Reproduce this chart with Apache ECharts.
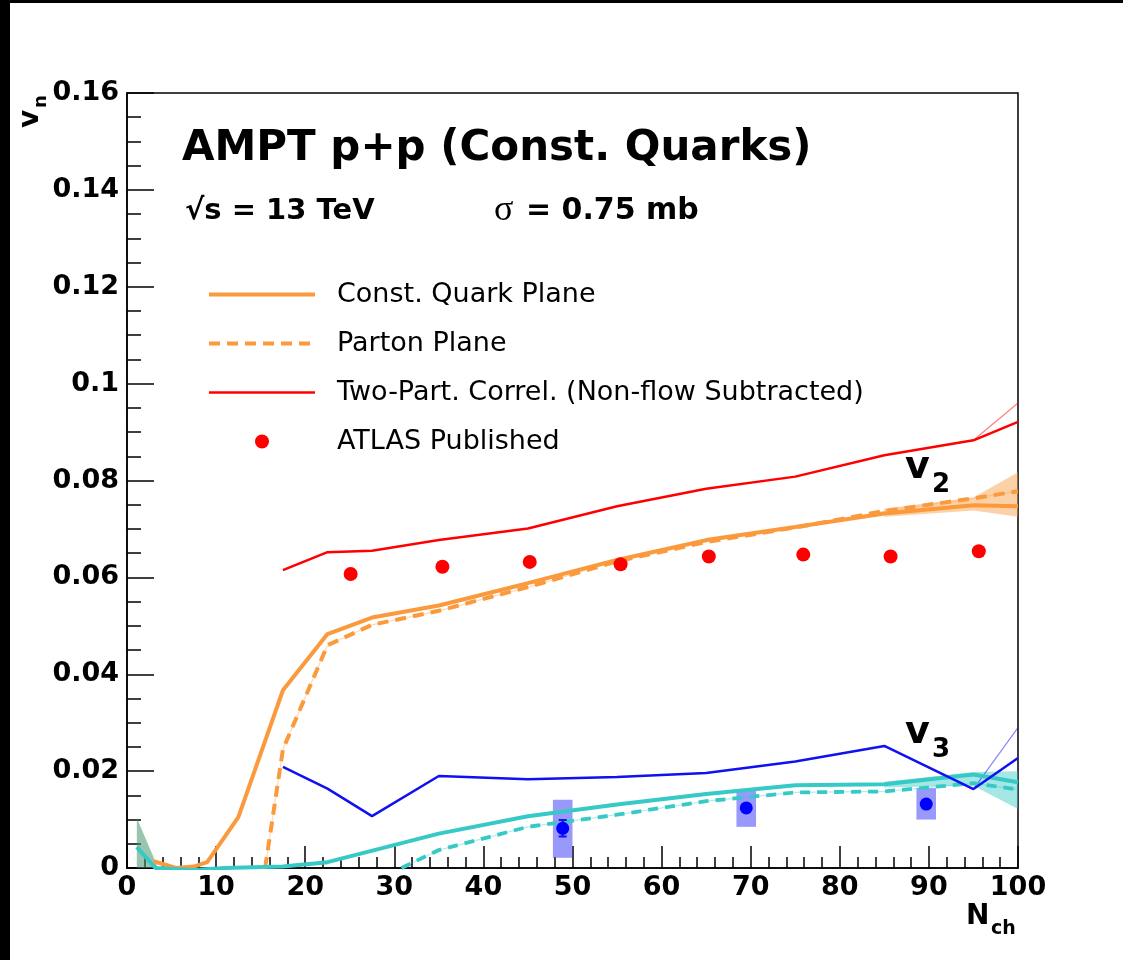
<!DOCTYPE html>
<html>
<head>
<meta charset="utf-8">
<script src="https://cdn.jsdelivr.net/npm/echarts@6/dist/echarts.min.js"></script>
<style>
html,body{margin:0;padding:0;background:#fff;}
#chart{width:1123px;height:960px;}
</style>
</head>
<body>
<div id="chart"></div>
<script>
// ---------------- data ----------------
const xTicks = [0,10,20,30,40,50,60,70,80,90,100];
const yTicks = [0,0.02,0.04,0.06,0.08,0.1,0.12,0.14,0.16];

// v2 : Const. Quark Plane (solid orange)
const cqV2X = [3,5.5,7.5,9,12.5,17.5,22.5,27.5,35,45,55,65,75,85,95,100];
const cqV2  = [0.0014,0,0.0003,0.0012,0.0105,0.0367,0.0483,0.0517,0.0542,0.0588,0.0636,0.0677,0.0704,0.0732,0.0749,0.0747];
// v2 : Parton Plane (dashed orange)
const ppV2X = [15.5,17.5,22.5,27.5,35,45,55,65,75,85,95,100];
const ppV2  = [0,0.0245,0.046,0.0502,0.0531,0.058,0.0633,0.0673,0.0703,0.0737,0.0763,0.0778];
// Two-Part. Correl. (Non-flow Subtracted)
const tpX   = [17.5,22.5,27.5,35,45,55,65,75,85,95,100];
const tpV2  = [0.0615,0.0652,0.0655,0.0677,0.0701,0.0747,0.0783,0.0808,0.0852,0.0883,0.0921];
const tpV3  = [0.0209,0.0164,0.0107,0.019,0.0183,0.0188,0.0196,0.022,0.0252,0.0163,0.0227];
const tpExtX = [95,100];
const tpV2Ext = [0.0883,0.096];
const tpV3Ext = [0.0163,0.029];
// v3 : Const. Quark Plane (solid teal)
const cqV3X = [1.1,3.2,7.5,11,17.5,22.5,35,45,55,65,75,85,95,100];
const cqV3  = [0.0043,0,-0.0004,0,0.0003,0.0012,0.0071,0.0107,0.0131,0.0153,0.0171,0.0173,0.0193,0.0177];
// v3 : Parton Plane (dashed teal)
const ppV3X = [30.8,35,45,55,65,75,85,95,100];
const ppV3  = [0,0.0037,0.0085,0.011,0.0138,0.0156,0.0158,0.0175,0.0162];
// ATLAS published
const atlasV2X = [25.1,35.4,45.2,55.4,65.3,75.9,85.7,95.6];
const atlasV2  = [0.0607,0.0622,0.0632,0.0627,0.0643,0.0647,0.0643,0.0654];
const atlasV3X = [48.9,69.5,89.7];
const atlasV3  = [0.0082,0.0124,0.0132];
const atlasV3Stat  = [0.0017,0.0004,0.0004];
const atlasV3SysLo = [0.0021,0.0085,0.0100];
const atlasV3SysHi = [0.0141,0.0162,0.0165];
// uncertainty bands
const bandX = [85,95,100];
const cqV2BandLo = [0.0725,0.0738,0.0725];
const cqV2BandHi = [0.0742,0.0765,0.0817];
const cqV3BandLo = [0.0166,0.0170,0.0122];
const cqV3BandHi = [0.0178,0.0198,0.0200];
const lowBandX  = [1.1,3.5];
const lowBandLo = [0,0];
const lowBandHi = [0.0103,0];

// ---------------- styles ----------------
const ORANGE = '#fa9a3c';
const TEAL = '#36c9c6';
const RED = '#ff0000';
const BLUE = '#1010f0';
const FONT = 'DejaVu Sans';

const pairs = (xs, ys) => xs.map((x, i) => [x, ys[i]]);
const triples = (xs, a, b) => xs.map((x, i) => [x, a[i], b[i]]);

function bandSeries(name, xs, lo, hi, color) {
  return {
    name: name, type: 'custom', z: 1, silent: true, clip: true,
    data: triples(xs, lo, hi),
    encode: {x: 0, y: [1, 2]},
    renderItem: function (params, api) {
      const i = params.dataIndexInside;
      if (i >= xs.length - 1) return null;
      const x0 = api.value(0, i), l0 = api.value(1, i), h0 = api.value(2, i);
      const x1 = api.value(0, i + 1), l1 = api.value(1, i + 1), h1 = api.value(2, i + 1);
      return {
        type: 'polygon',
        shape: {points: [api.coord([x0, l0]), api.coord([x1, l1]), api.coord([x1, h1]), api.coord([x0, h0])]},
        style: {fill: color, stroke: null}
      };
    }
  };
}

const chart = echarts.init(document.getElementById('chart'), null, {renderer: 'canvas'});

const option = {
  backgroundColor: '#ffffff',
  animation: false,
  grid: {left: 127, top: 93, width: 891, height: 775, show: true, borderColor: '#000', borderWidth: 1.5, backgroundColor: 'transparent'},
  legend: {
    orient: 'vertical', left: 207, top: 281, itemWidth: 106, itemHeight: 14, itemGap: 22, padding: 0,
    lineStyle: {width: 'inherit'},
    data: [
      {name: 'Const. Quark Plane', itemStyle: {opacity: 0}},
      {name: 'Parton Plane', itemStyle: {opacity: 0}},
      {name: 'Two-Part. Correl. (Non-flow Subtracted)', itemStyle: {opacity: 0}},
      {name: 'ATLAS Published'}
    ],
    textStyle: {fontFamily: FONT, fontSize: 27, color: '#000', padding: [0, 0, 0, 17]},
    selectedMode: false
  },
  xAxis: {
    type: 'value', min: 0, max: 100, interval: 10,
    axisLine: {onZero: false, lineStyle: {color: '#000', width: 1.5}},
    axisTick: {inside: true, length: 22, lineStyle: {color: '#000', width: 1.5}},
    minorTick: {show: true, splitNumber: 5, length: 11, lineStyle: {color: '#000', width: 1.5}},
    splitLine: {show: false},
    axisLabel: {color: '#000', fontFamily: FONT, fontWeight: 'bold', fontSize: 27, margin: 6,
      formatter: v => xTicks.includes(v) ? String(v) : ''}
  },
  yAxis: {
    type: 'value', min: 0, max: 0.16, interval: 0.02,
    axisLine: {onZero: false, lineStyle: {color: '#000', width: 1.5}},
    axisTick: {inside: true, length: 27, lineStyle: {color: '#000', width: 1.5}},
    minorTick: {show: true, splitNumber: 4, length: 14, lineStyle: {color: '#000', width: 1.5}},
    splitLine: {show: false},
    axisLabel: {color: '#000', fontFamily: FONT, fontWeight: 'bold', fontSize: 27, margin: 8,
      formatter: v => { const t = yTicks.find(k => Math.abs(k - v) < 1e-9); return t === undefined ? '' : String(t); }}
  },
  series: [
    bandSeries('lowband', lowBandX, lowBandLo, lowBandHi, 'rgba(70,150,110,0.55)'),
    bandSeries('cqV2band', bandX, cqV2BandLo, cqV2BandHi, 'rgba(250,154,60,0.45)'),
    bandSeries('cqV3band', bandX, cqV3BandLo, cqV3BandHi, 'rgba(54,201,198,0.45)'),
    {
      name: 'ATLAS v3 sys', type: 'custom', z: 2, silent: true, clip: true,
      data: triples(atlasV3X, atlasV3SysLo, atlasV3SysHi), encode: {x: 0, y: [1, 2]},
      renderItem: function (params, api) {
        const x = api.value(0), lo = api.value(1), hi = api.value(2);
        const p1 = api.coord([x - 1.1, hi]), p2 = api.coord([x + 1.1, lo]);
        return {type: 'rect', shape: {x: p1[0], y: p1[1], width: p2[0] - p1[0], height: p2[1] - p1[1]},
          style: {fill: 'rgba(70,70,250,0.55)'}};
      }
    },
    {name: 'ppV2 thin', type: 'line', z: 3, silent: true, symbol: 'none', data: pairs(ppV2X, ppV2),
      lineStyle: {color: 'rgba(250,154,60,0.35)', width: 1.2}},
    {name: 'ppV3 thin', type: 'line', z: 3, silent: true, symbol: 'none', data: pairs(ppV3X, ppV3),
      lineStyle: {color: 'rgba(54,201,198,0.35)', width: 1.2}},
    {name: 'Const. Quark Plane', type: 'line', z: 4, symbol: 'none', data: pairs(cqV2X, cqV2), color: ORANGE,
      lineStyle: {color: ORANGE, width: 4}},
    {name: 'Parton Plane', type: 'line', z: 4, symbol: 'none', data: pairs(ppV2X, ppV2), color: ORANGE,
      lineStyle: {color: ORANGE, width: 4, type: [11, 7]}},
    {name: 'Two-Part. Correl. (Non-flow Subtracted)', type: 'line', z: 4, symbol: 'none', data: pairs(tpX, tpV2), color: RED,
      lineStyle: {color: RED, width: 2.5}},
    {name: 'tpV2 ext', type: 'line', z: 3, silent: true, symbol: 'none', data: pairs(tpExtX, tpV2Ext),
      lineStyle: {color: 'rgba(255,0,0,0.5)', width: 1.2}},
    {name: 'v3 Const. Quark Plane', type: 'line', z: 4, symbol: 'none', data: pairs(cqV3X, cqV3), color: TEAL,
      lineStyle: {color: TEAL, width: 4}},
    {name: 'v3 Parton Plane', type: 'line', z: 4, symbol: 'none', data: pairs(ppV3X, ppV3), color: TEAL,
      lineStyle: {color: TEAL, width: 3.8, type: [10, 7]}},
    {name: 'v3 Two-Part. Correl.', type: 'line', z: 4, symbol: 'none', data: pairs(tpX, tpV3), color: BLUE,
      lineStyle: {color: BLUE, width: 2.5}},
    {name: 'tpV3 ext', type: 'line', z: 3, silent: true, symbol: 'none', data: pairs(tpExtX, tpV3Ext),
      lineStyle: {color: 'rgba(16,16,240,0.5)', width: 1.2}},
    {name: 'ATLAS Published', type: 'scatter', z: 5, symbol: 'circle', symbolSize: 14, data: pairs(atlasV2X, atlasV2),
      itemStyle: {color: RED, opacity: 1}},
    {
      name: 'ATLAS v3 stat', type: 'custom', z: 5, silent: true, clip: true,
      data: triples(atlasV3X, atlasV3, atlasV3Stat), encode: {x: 0, y: 1},
      renderItem: function (params, api) {
        const x = api.value(0), y = api.value(1), e = api.value(2);
        const top = api.coord([x, y + e]), bot = api.coord([x, y - e]);
        const st = {stroke: BLUE, lineWidth: 2};
        return {type: 'group', children: [
          {type: 'line', shape: {x1: top[0], y1: top[1], x2: bot[0], y2: bot[1]}, style: st},
          {type: 'line', shape: {x1: top[0] - 4, y1: top[1], x2: top[0] + 4, y2: top[1]}, style: st},
          {type: 'line', shape: {x1: bot[0] - 4, y1: bot[1], x2: bot[0] + 4, y2: bot[1]}, style: st}
        ]};
      }
    },
    {name: 'ATLAS v3', type: 'scatter', z: 6, symbol: 'circle', symbolSize: 13, data: pairs(atlasV3X, atlasV3),
      itemStyle: {color: '#0000ff', opacity: 1}}
  ],
  graphic: [
    {type: 'rect', left: 0, top: 0, shape: {width: 10, height: 960}, style: {fill: '#000'}, z: 100},
    {type: 'rect', left: 0, top: 0, shape: {width: 1123, height: 3}, style: {fill: '#000'}, z: 100},
    {type: 'text', x: 182, y: 149, z: 100, style: {text: 'AMPT p+p (Const. Quarks)', font: 'bold 42px "DejaVu Sans"', fill: '#000', textVerticalAlign: 'middle'}},
    {type: 'text', x: 185, y: 211, z: 100, style: {text: '\u221As = 13 TeV', font: 'bold 29px "DejaVu Sans"', fill: '#000', textVerticalAlign: 'middle'}},
    {type: 'text', x: 494, y: 211, z: 100, style: {text: '\u03C3', font: '36px "Liberation Serif"', fill: '#000', textVerticalAlign: 'middle'}},
    {type: 'text', x: 526, y: 211, z: 100, style: {text: '= 0.75 mb', font: 'bold 30px "DejaVu Sans"', fill: '#000', textVerticalAlign: 'middle'}},
    {type: 'text', x: 905, y: 468, z: 100, style: {text: 'v', font: 'bold 38px "DejaVu Sans"', fill: '#000', textVerticalAlign: 'middle'}},
    {type: 'text', x: 932, y: 485, z: 100, style: {text: '2', font: 'bold 26px "DejaVu Sans"', fill: '#000', textVerticalAlign: 'middle'}},
    {type: 'text', x: 905, y: 733, z: 100, style: {text: 'v', font: 'bold 38px "DejaVu Sans"', fill: '#000', textVerticalAlign: 'middle'}},
    {type: 'text', x: 932, y: 750, z: 100, style: {text: '3', font: 'bold 26px "DejaVu Sans"', fill: '#000', textVerticalAlign: 'middle'}},
    {type: 'text', x: 966, y: 917, z: 100, style: {text: 'N', font: 'bold 28px "DejaVu Sans"', fill: '#000', textVerticalAlign: 'middle'}},
    {type: 'text', x: 991, y: 929, z: 100, style: {text: 'ch', font: 'bold 19px "DejaVu Sans"', fill: '#000', textVerticalAlign: 'middle'}},
    {type: 'text', x: 31, y: 128, rotation: Math.PI / 2, z: 100, style: {text: 'v', font: 'bold 28px "DejaVu Sans"', fill: '#000', textVerticalAlign: 'middle'}},
    {type: 'text', x: 41, y: 108, rotation: Math.PI / 2, z: 100, style: {text: 'n', font: 'bold 18px "DejaVu Sans"', fill: '#000', textVerticalAlign: 'middle'}}
  ]
};
chart.setOption(option);
</script>
</body>
</html>
